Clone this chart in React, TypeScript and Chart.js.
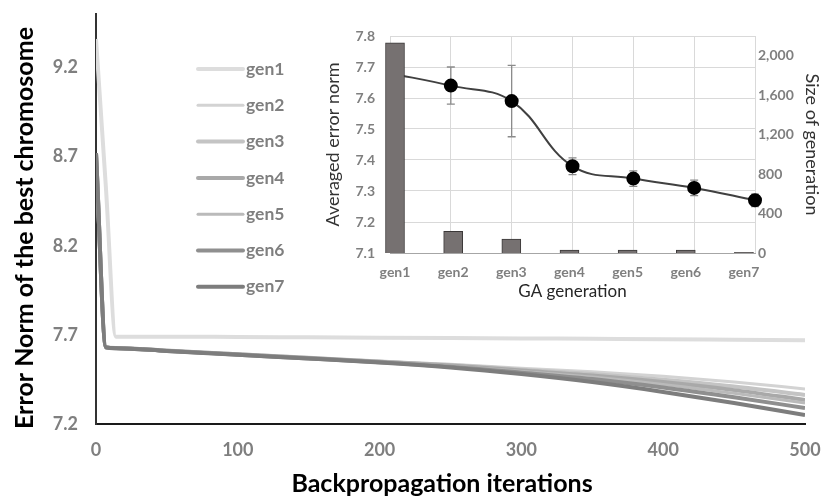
import React, { useEffect, useRef } from "react";
import { Chart, registerables } from "chart.js";

Chart.register(...registerables);

// ---------- Main chart: error norm vs. backpropagation iterations ----------
const iterations = [0, 7, 14, 50, 100, 150, 200, 250, 300, 350, 400, 450, 500];
const genLabels = ["gen1", "gen2", "gen3", "gen4", "gen5", "gen6", "gen7"];

const errNormGen1 = [9.36, 8.525, 7.69, 7.69, 7.688, 7.686, 7.684, 7.682, 7.68, 7.678, 7.676, 7.673, 7.67];
const errNormGen2 = [8.72, 7.63, 7.627, 7.612, 7.592, 7.572, 7.552, 7.535, 7.513, 7.493, 7.468, 7.436, 7.397];
const errNormGen3 = [8.72, 7.63, 7.627, 7.612, 7.591, 7.571, 7.55, 7.531, 7.505, 7.48, 7.448, 7.41, 7.363];
const errNormGen4 = [8.72, 7.63, 7.626, 7.611, 7.591, 7.57, 7.549, 7.528, 7.5, 7.472, 7.435, 7.39, 7.335];
const errNormGen5 = [8.72, 7.63, 7.626, 7.611, 7.59, 7.569, 7.548, 7.525, 7.495, 7.463, 7.422, 7.372, 7.318];
const errNormGen6 = [8.72, 7.63, 7.625, 7.61, 7.589, 7.568, 7.546, 7.521, 7.488, 7.452, 7.405, 7.35, 7.29];
const errNormGen7 = [8.72, 7.63, 7.625, 7.61, 7.588, 7.567, 7.545, 7.517, 7.48, 7.435, 7.38, 7.318, 7.25];

const mainYTicks = [7.2, 7.7, 8.2, 8.7, 9.2];
const mainXTicks = [0, 100, 200, 300, 400, 500];

// ---------- Inset: averaged error norm and population size per GA generation ----------
const avgErrorNorm = [7.68, 7.64, 7.59, 7.38, 7.34, 7.31, 7.27];
const errorSpread = [0, 0.06, 0.115, 0.027, 0.025, 0.025, 0.02];
const generationSize = [2130, 220, 140, 30, 30, 30, 8];
const sizeTicks = [0, 400, 800, 1200, 1600, 2000];

// line appearance per generation
const genColors = ["#dddddd", "#d3d3d3", "#c4c4c4", "#a9a9a9", "#bababa", "#8f8f8f", "#7d7d7d"];
const genWidths = [4, 3, 4, 4, 3, 4, 4];

const FONT = "Lato";

const legendPlugin = {
  id: "genLegend",
  afterDraw(chart: any) {
    const ctx = chart.ctx;
    ctx.save();
    chart.data.datasets.forEach((ds: any, i: number) => {
      const y = 69 + i * 36.3;
      ctx.strokeStyle = ds.borderColor;
      ctx.lineWidth = ds.borderWidth;
      ctx.lineCap = "round";
      ctx.beginPath();
      ctx.moveTo(198, y);
      ctx.lineTo(243, y);
      ctx.stroke();
      ctx.fillStyle = "#7f7f7f";
      ctx.font = `bold 17.5px ${FONT}`;
      ctx.textBaseline = "middle";
      ctx.textAlign = "left";
      ctx.fillText(ds.label, 246, y);
    });
    ctx.restore();
  },
};

// axis titles of the main chart
const mainTitlesPlugin = {
  id: "mainTitles",
  afterDraw(chart: any) {
    const ctx = chart.ctx;
    ctx.save();
    ctx.fillStyle = "#000";
    ctx.font = `bold 25px ${FONT}`;
    ctx.textAlign = "center";
    ctx.textBaseline = "middle";
    ctx.fillText("Backpropagation iterations", 442, 484);
    ctx.translate(25, 228);
    ctx.rotate(-Math.PI / 2);
    ctx.fillText("Error Norm of the best chromosome", 0, 0);
    ctx.restore();
  },
};

const errorBarPlugin = {
  id: "errorBars",
  beforeDatasetsDraw(chart: any) {
    const meta = chart.getDatasetMeta(1);
    const yScale = chart.scales.yErr;
    const ctx = chart.ctx;
    ctx.save();
    ctx.strokeStyle = "#8a8a8a";
    ctx.lineWidth = 1.3;
    meta.data.forEach((pt: any, i: number) => {
      const e = errorSpread[i];
      if (!e) return;
      const top = yScale.getPixelForValue(avgErrorNorm[i] + e);
      const bot = yScale.getPixelForValue(avgErrorNorm[i] - e);
      ctx.beginPath();
      ctx.moveTo(pt.x, top);
      ctx.lineTo(pt.x, bot);
      ctx.moveTo(pt.x - 4, top);
      ctx.lineTo(pt.x + 4, top);
      ctx.moveTo(pt.x - 4, bot);
      ctx.lineTo(pt.x + 4, bot);
      ctx.stroke();
    });
    ctx.restore();
  },
};

// fix an axis box size and drop the label overhang padding
const fixBox = (w: number | null, h: number | null) => (s: any) => {
  if (w !== null) s.width = w;
  if (h !== null) s.height = h;
  s.paddingLeft = 0;
  s.paddingRight = 0;
  s.paddingTop = 0;
  s.paddingBottom = 0;
};

export default function App() {
  const mainRef = useRef<HTMLCanvasElement>(null);
  const insetRef = useRef<HTMLCanvasElement>(null);

  useEffect(() => {
    const series = [errNormGen1, errNormGen2, errNormGen3, errNormGen4, errNormGen5, errNormGen6, errNormGen7];
    const main = new Chart(mainRef.current!, {
      type: "line",
      data: {
        datasets: series.map((vals, i) => ({
          label: genLabels[i],
          data: vals.map((v, k) => ({ x: iterations[k], y: v })),
          borderColor: genColors[i],
          borderWidth: genWidths[i],
          pointRadius: 0,
          cubicInterpolationMode: "monotone" as const,
          order: genLabels.length - i,
        })),
      },
      options: {
        responsive: false,
        animation: false,
        layout: { padding: { left: 0, top: 14, right: 16, bottom: 0 } },
        plugins: { legend: { display: false }, tooltip: { enabled: false } },
        scales: {
          x: {
            type: "linear",
            min: 0,
            max: 500,
            afterBuildTicks: (s: any) => {
              s.ticks = mainXTicks.map((v) => ({ value: v }));
            },
            afterFit: fixBox(null, 75),
            grid: { display: false, drawTicks: false },
            border: { display: true, color: "#1a1a1a", width: 2 },
            ticks: { color: "#7f7f7f", font: { family: FONT, size: 18, weight: "bold" }, padding: 15 },
          },
          y: {
            min: 7.2,
            max: 9.5,
            afterBuildTicks: (s: any) => {
              s.ticks = mainYTicks.map((v) => ({ value: v }));
            },
            afterFit: fixBox(96, null),
            grid: { display: false, drawTicks: false },
            border: { display: true, color: "#333", width: 2 },
            ticks: {
              color: "#7f7f7f",
              font: { family: FONT, size: 18, weight: "bold" },
              padding: 18,
              callback: (v: any) => Number(v).toFixed(1),
            },
          },
        },
      },
      plugins: [legendPlugin, mainTitlesPlugin],
    });

    const inset = new Chart(insetRef.current!, {
      type: "bar",
      data: {
        labels: genLabels,
        datasets: [
          {
            type: "bar",
            label: "Size of generation",
            data: generationSize.map((v, i) => ({ x: i, y: v })),
            xAxisID: "xBar",
            yAxisID: "ySize",
            backgroundColor: "#767171",
            borderColor: "#3b3838",
            borderWidth: 1,
            grouped: false,
            barPercentage: 1,
            categoryPercentage: 1,
            maxBarThickness: 19,
            clip: false,
            order: 0,
          } as any,
          {
            type: "line",
            label: "Averaged error norm",
            data: avgErrorNorm,
            xAxisID: "xLine",
            yAxisID: "yErr",
            borderColor: "#404040",
            borderWidth: 2,
            tension: 0.4,
            pointRadius: (c: any) => (c.dataIndex === 0 ? 0 : 6),
            pointBackgroundColor: "#000",
            pointBorderColor: "#000",
            order: 1,
          } as any,
        ],
      },
      options: {
        responsive: false,
        animation: false,
        layout: { padding: { left: 0, top: 16, right: 0, bottom: 0 } },
        plugins: { legend: { display: false }, tooltip: { enabled: false } },
        scales: {
          xLine: {
            type: "category",
            position: "bottom",
            offset: false,
            afterFit: fixBox(null, 0),
            grid: { display: true, color: "#d9d9d9", lineWidth: 1, drawTicks: false, offset: false },
            border: { display: false },
            ticks: { display: false },
          },
          xBar: {
            type: "linear",
            position: "bottom",
            offset: false,
            min: -0.086,
            max: 6.19,
            afterBuildTicks: (s: any) => {
              s.ticks = genLabels.map((_, i) => ({ value: i }));
            },
            afterFit: fixBox(null, 57),
            grid: { display: false, drawTicks: false, offset: false },
            border: { display: true, color: "#a6a6a6", width: 1 },
            ticks: {
              color: "#7f7f7f",
              font: { family: FONT, size: 14, weight: "bold" },
              padding: 11,
              callback: (v: any) => genLabels[Math.round(Number(v))] ?? "",
            },
            title: {
              display: true,
              text: "GA generation",
              color: "#262626",
              font: { family: FONT, size: 17 },
              padding: { top: 0, bottom: 8 },
            },
          },
          yErr: {
            type: "linear",
            position: "left",
            min: 7.1,
            max: 7.8,
            ticks: {
              stepSize: 0.1,
              color: "#7f7f7f",
              font: { family: FONT, size: 14, weight: "bold" },
              padding: 15,
              callback: (v: any) => Number(v).toFixed(1),
            },
            afterFit: fixBox(70, null),
            grid: { display: true, color: "#d9d9d9", lineWidth: 1, drawTicks: false },
            border: { display: false },
            title: {
              display: true,
              text: "Averaged error norm",
              color: "#333",
              font: { family: FONT, size: 18 },
              padding: { top: 2, bottom: 0 },
            },
          },
          ySize: {
            type: "linear",
            position: "right",
            min: 0,
            max: 2200,
            afterBuildTicks: (s: any) => {
              s.ticks = sizeTicks.map((v) => ({ value: v }));
            },
            afterFit: fixBox(66, null),
            grid: { display: false, drawTicks: false },
            border: { display: false },
            ticks: {
              color: "#7f7f7f",
              font: { family: FONT, size: 14, weight: "bold" },
              padding: 3,
              callback: (v: any) => Number(v).toLocaleString("en-US"),
            },
            title: {
              display: true,
              text: "Size of generation",
              color: "#333",
              font: { family: FONT, size: 18, lineHeight: 1 },
              padding: { top: 0, bottom: 0 },
            },
          },
        },
      },
      plugins: [errorBarPlugin],
    });

    return () => {
      main.destroy();
      inset.destroy();
    };
  }, []);

  return (
    <div style={{ position: "absolute", left: 0, top: 0, width: 821, height: 499, background: "#fff", overflow: "hidden" }}>
      <canvas ref={mainRef} width={821} height={499} style={{ position: "absolute", left: 0, top: 0, display: "block" }} />
      <canvas
        ref={insetRef}
        width={501}
        height={290}
        style={{ position: "absolute", left: 320, top: 20, display: "block" }}
      />
    </div>
  );
}
